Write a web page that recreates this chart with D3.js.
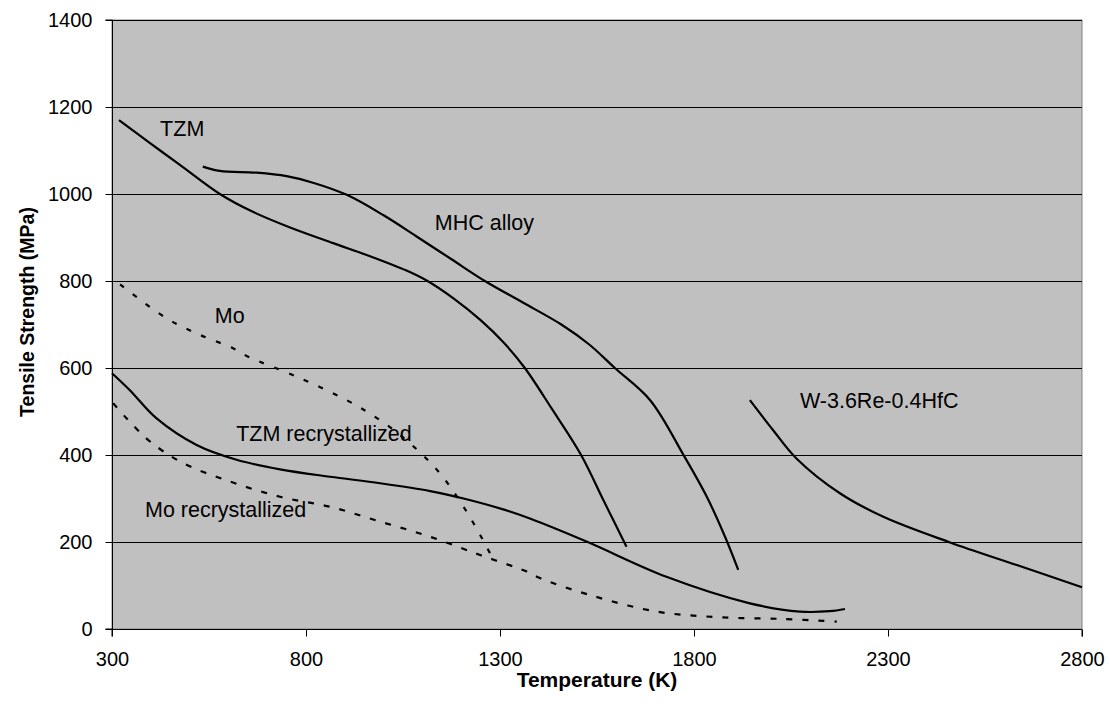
<!DOCTYPE html>
<html>
<head>
<meta charset="utf-8">
<script src="https://cdn.jsdelivr.net/npm/d3@7"></script>
<style>
  html, body { margin: 0; padding: 0; background: #ffffff; }
  svg text { font-family: "Liberation Sans", Arial, sans-serif; fill: #000; }
</style>
</head>
<body>
<svg id="chart" width="1110" height="709"></svg>
<script>
// ---- data ----
const xTicks = [300, 800, 1300, 1800, 2300, 2800];
const yTicks = [0, 200, 400, 600, 800, 1000, 1200, 1400];

const tzmT = [318, 398, 475, 578, 663, 759, 870, 965, 1059, 1111, 1180, 1250, 1310, 1364, 1433, 1509, 1566, 1626];
const tzmS = [1170, 1117, 1067, 1000, 959, 923, 887, 857, 824, 801, 760, 710, 658, 600, 507, 400, 297, 189];

const mhcT = [534, 578, 673, 750, 818, 905, 1000, 1089, 1175, 1261, 1360, 1458, 1530, 1596, 1687, 1773, 1833, 1880, 1914];
const mhcS = [1063, 1053, 1049, 1041, 1026, 998, 951, 900, 850, 800, 750, 700, 654, 600, 526, 400, 304, 212, 136];

const wT = [1944, 2004, 2064, 2176, 2288, 2460, 2632, 2800];
const wS = [526, 457, 392, 312, 258, 199, 147, 96];

const tzmRxT = [300, 346, 415, 518, 621, 733, 862, 991, 1120, 1206, 1308, 1377, 1523, 1729, 1944, 2073, 2150, 2189];
const tzmRxS = [588, 549, 484, 423, 389, 367, 350, 335, 317, 300, 275, 254, 201, 120, 59, 40, 41, 46];

const moT = [321, 441, 527, 613, 651, 776, 905, 991, 1068, 1145, 1206, 1257, 1283];
const moS = [792, 714, 676, 645, 626, 580, 526, 480, 427, 358, 281, 203, 159];

const moRxT = [303, 338, 398, 484, 604, 733, 862, 991, 1120, 1249, 1369, 1403, 1532, 1704, 1867, 2030, 2168];
const moRxS = [519, 484, 431, 381, 339, 304, 281, 247, 212, 170, 132, 117, 78, 40, 27, 23, 17];

const seriesNames = ["TZM", "MHC alloy", "W-3.6Re-0.4HfC", "TZM recrystallized", "Mo", "Mo recrystallized"];
const labelT = [424, 1132, 2073, 620, 565, 385];
const labelS = [1133, 917, 508, 432, 703, 257];

// ---- layout ----
const margin = {left: 112, right: 1082, top: 20, bottom: 629};
const svg = d3.select("#chart");

const x = d3.scaleLinear().domain([300, 2800]).range([margin.left, margin.right]);
const y = d3.scaleLinear().domain([0, 1400]).range([margin.bottom, margin.top]);

// plot background
svg.append("rect")
  .attr("x", margin.left).attr("y", margin.top)
  .attr("width", margin.right - margin.left).attr("height", margin.bottom - margin.top)
  .attr("fill", "#c0c0c0").attr("stroke", "#808080").attr("stroke-width", 1);

// gridlines
svg.append("g").selectAll("line").data(yTicks.filter(d => d > 0)).join("line")
  .attr("x1", margin.left).attr("x2", margin.right)
  .attr("y1", d => Math.round(y(d)) + 0.5).attr("y2", d => Math.round(y(d)) + 0.5)
  .attr("stroke", "#000").attr("stroke-width", 1);

// axes
const yAxis = d3.axisLeft(y).tickValues(yTicks).tickSize(7).tickPadding(13).tickFormat(d3.format("d"));
const xAxis = d3.axisBottom(x).tickValues(xTicks).tickSize(7).tickPadding(15).tickFormat(d3.format("d"));

const gy = svg.append("g").attr("transform", `translate(${margin.left + 0.5},0)`).call(yAxis);
const gx = svg.append("g").attr("transform", `translate(0,${margin.bottom + 0.5})`).call(xAxis);
[gx, gy].forEach(g => {
  g.select(".domain").attr("stroke", "#000").attr("stroke-width", 1);
  g.selectAll(".tick line").attr("stroke", "#000");
  g.selectAll(".tick text").attr("font-size", 20).attr("font-family", "Liberation Sans, Arial, sans-serif").attr("fill", "#000");
});
gy.select(".domain").attr("d", `M-7,${margin.bottom}H0V${margin.top}H-7`);
gx.select(".domain").attr("d", `M${margin.left},7V0H${margin.right}V7`);

// axis titles
svg.append("text")
  .attr("x", (margin.left + margin.right) / 2).attr("y", 687)
  .attr("text-anchor", "middle").attr("font-size", 21).attr("font-weight", "bold")
  .text("Temperature (K)");
svg.append("text")
  .attr("transform", `translate(34,312) rotate(-90)`)
  .attr("text-anchor", "middle").attr("font-size", 19.5).attr("font-weight", "bold")
  .text("Tensile Strength (MPa)");

// series
const line = d3.line().x(d => x(d[0])).y(d => y(d[1])).curve(d3.curveCatmullRom.alpha(0.5));
const series = [
  {t: tzmT, s: tzmS, dash: null},
  {t: mhcT, s: mhcS, dash: null},
  {t: wT, s: wS, dash: null},
  {t: tzmRxT, s: tzmRxS, dash: null},
  {t: moT, s: moS, dash: "5,11"},
  {t: moRxT, s: moRxS, dash: "6,10"}
];
svg.append("g").selectAll("path").data(series).join("path")
  .attr("d", d => line(d3.zip(d.t, d.s)))
  .attr("fill", "none").attr("stroke", "#000").attr("stroke-width", 2.2)
  .attr("stroke-dasharray", d => d.dash);

// series labels
svg.append("g").selectAll("text").data(seriesNames).join("text")
  .attr("x", (d, i) => x(labelT[i])).attr("y", (d, i) => y(labelS[i]))
  .attr("font-size", 21.5)
  .text(d => d);
</script>
</body>
</html>
